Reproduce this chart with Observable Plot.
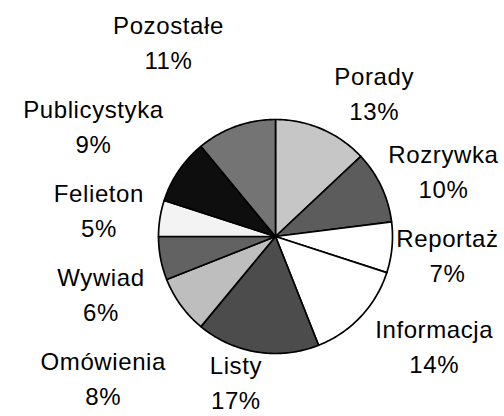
<!DOCTYPE html>
<html><head><meta charset="utf-8">
<script src="https://cdn.jsdelivr.net/npm/d3@7"></script>
<script src="https://cdn.jsdelivr.net/npm/@observablehq/plot@0.6"></script>
<style>html,body{margin:0;padding:0;background:#fff}#chart svg{display:block}</style>
</head><body><div id="chart"></div>
<script>
// ---- data ----
const categories = ["Porady","Rozrywka","Reportaż","Informacja","Listy","Omówienia","Wywiad","Felieton","Publicystyka","Pozostałe"];
const shares = [13,10,7,14,17,8,6,5,9,11];
const sliceColors = ["#c6c6c6","#5c5c5c","#ffffff","#ffffff","#4c4c4c","#bebebe","#626262","#f3f3f3","#0e0e0e","#747474"];

// ---- layout ----
const W = 504, H = 416, cx = 275, cy = 236, R = 117;
const fontSize = 24, lineH = 35, letterSp = 0.6;
const gap = 6, padX = 10, kx = 3.6, spacing = 84, xTol = 35, edge = 5;
const fontFamily = "'Liberation Sans', Arial, sans-serif";

const total = d3.sum(shares);
let acc = 0;
const slices = categories.map((name, i) => {
  const a0 = acc / total * 2 * Math.PI;
  acc += shares[i];
  const a1 = acc / total * 2 * Math.PI;
  return {name, value: shares[i], color: sliceColors[i], a0, a1, mid: (a0 + a1) / 2};
});

// polygon outline of each slice, in radius units
const slicePts = [];
for (const s of slices) {
  slicePts.push({name: s.name, color: s.color, x: 0, y: 0});
  const n = Math.max(4, Math.ceil((s.a1 - s.a0) * 60));
  for (let k = 0; k <= n; k++) {
    const a = s.a0 + (s.a1 - s.a0) * k / n;
    slicePts.push({name: s.name, color: s.color, x: Math.sin(a), y: -Math.cos(a)});
  }
}

// label placement: outside end of each slice, then de-overlap per side
const ctx = document.createElement("canvas").getContext("2d");
ctx.font = `${fontSize}px ${fontFamily}`;
const measure = t => ctx.measureText(t).width + letterSp * t.length;
const labels = slices.map(s => {
  const lines = [s.name, s.value + "%"];
  const a = Math.max(...lines.map(measure)) / 2, b = lineH;
  const ux = Math.sin(s.mid), uy = -Math.cos(s.mid);
  const ax = cx + ux * (R + gap), ay = cy + uy * (R + gap);
  const fx = Math.max(-1, Math.min(1, kx * ux));
  let px = ax + fx * (a + padX);
  px = Math.min(W - a - 6, Math.max(a + 6, px));
  return {text: lines.join("\n"), a, b, side: ux >= 0 ? 1 : -1, px, py: ay + uy * b, involved: false};
});
const overlapX = (p, q) => Math.abs(p.px - q.px) < p.a + q.a - xTol;
for (const side of [1, -1]) {
  const g = labels.filter(l => l.side === side).sort((p, q) => p.py - q.py);
  for (let i = 1; i < g.length; i++) for (let j = 0; j < i; j++) {
    if (overlapX(g[i], g[j]) && g[i].py < g[j].py + spacing) {
      g[i].py = g[j].py + spacing; g[i].involved = g[j].involved = true;
    }
  }
  const chain = g.filter(l => l.involved);
  const minY = lineH + edge, maxY = H - lineH - edge;
  if (chain.length > 1 && chain[chain.length - 1].py > maxY) {
    chain.forEach((l, i) => l.py = minY + (maxY - minY) * i / (chain.length - 1));
  }
}
for (const l of labels) {
  l.py = Math.min(H - lineH / 2 - 19, l.py);
  l.x = (l.px - cx) / R; l.y = (l.py - cy) / R;
}

const chart = Plot.plot({
  width: W, height: H, margin: 0,
  x: {domain: [-cx / R, (W - cx) / R], range: [0, W], axis: null},
  y: {domain: [-cy / R, (H - cy) / R], range: [0, H], axis: null},
  color: {type: "identity"},
  style: {background: "#fff", letterSpacing: letterSp + "px"},
  marks: [
    Plot.line(slicePts, {x: "x", y: "y", z: "name", fill: "color", stroke: "#000", strokeWidth: 1.7, strokeLinejoin: "round", curve: "linear-closed"}),
    Plot.text(labels, {x: "x", y: "y", text: "text", fontSize, fontFamily, lineHeight: lineH / fontSize, fill: "#000"})
  ]
});
document.getElementById("chart").append(chart);
</script>
</body></html>
